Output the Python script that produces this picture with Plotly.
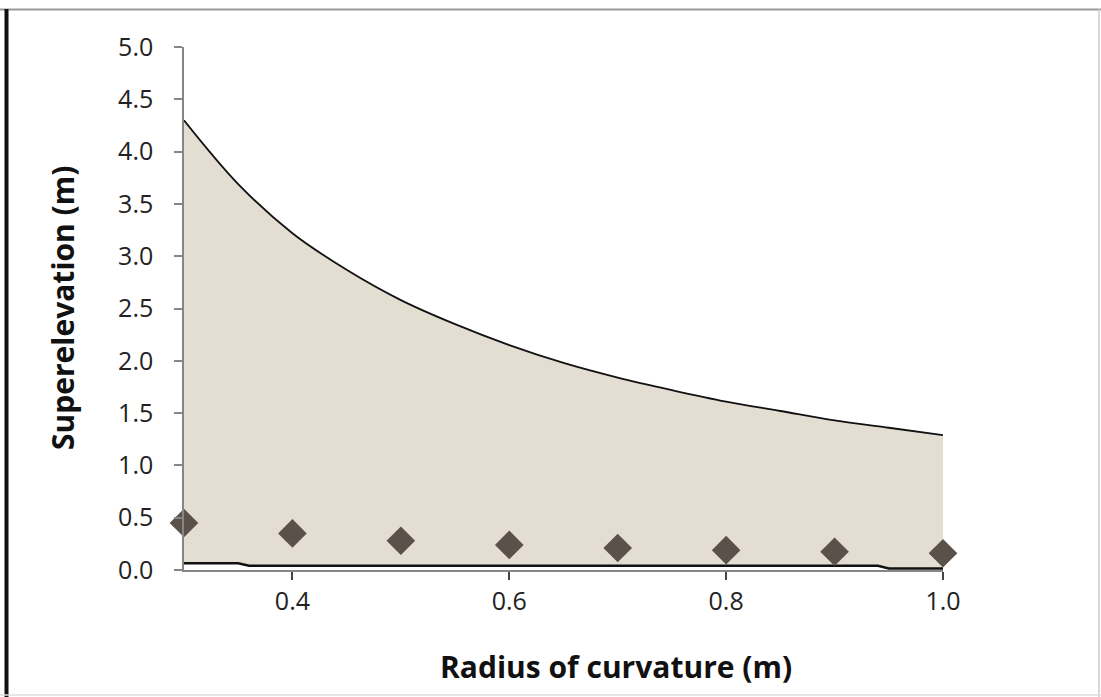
import plotly.graph_objects as go

# Upper bound of the feasible region
radius_upper = [0.30, 0.35, 0.40, 0.45, 0.50, 0.55, 0.60, 0.65, 0.70, 0.75, 0.80, 0.85, 0.90, 0.95, 1.00]
upper_bound = [4.30, 3.69, 3.22, 2.87, 2.58, 2.35, 2.15, 1.98, 1.84, 1.72, 1.61, 1.52, 1.43, 1.36, 1.29]

# Lower bound of the region
radius_lower = [0.30, 0.35, 0.36, 0.94, 0.95, 1.00]
lower_bound = [0.065, 0.065, 0.04, 0.04, 0.015, 0.015]

# Diamond markers
radius_pts = [0.3, 0.4, 0.5, 0.6, 0.7, 0.8, 0.9, 1.0]
superelev_pts = [0.45, 0.35, 0.28, 0.24, 0.21, 0.19, 0.175, 0.16]

xtick_vals = [0.4, 0.6, 0.8, 1.0]
xtick_text = ["0.4", "0.6", "0.8", "1.0"]
ytick_vals = [0.0, 0.5, 1.0, 1.5, 2.0, 2.5, 3.0, 3.5, 4.0, 4.5, 5.0]
ytick_text = ["%.1f" % v for v in ytick_vals]

x_title = "Radius of curvature (m)"
y_title = "Superelevation (m)"

fig = go.Figure()

poly_x = radius_upper + radius_lower[::-1]
poly_y = upper_bound + lower_bound[::-1]
fig.add_trace(go.Scatter(x=poly_x, y=poly_y, fill="toself", fillcolor="#e3ddd2",
                         line=dict(width=0), mode="lines", hoverinfo="skip", showlegend=False))
fig.add_trace(go.Scatter(x=radius_upper, y=upper_bound, mode="lines",
                         line=dict(color="#111111", width=1.8, shape="spline"), showlegend=False))
fig.add_trace(go.Scatter(x=radius_lower, y=lower_bound, mode="lines",
                         line=dict(color="#111111", width=2.5), showlegend=False))
fig.add_trace(go.Scatter(x=radius_pts, y=superelev_pts, mode="markers",
                         marker=dict(symbol="diamond", size=22, color="#59514a",
                                     line=dict(width=0)), showlegend=False, cliponaxis=False))

fnt = "Open Sans, Liberation Sans, sans-serif"
fig.update_layout(
    width=1101, height=697,
    margin=dict(l=184, r=158, t=47, b=127),
    paper_bgcolor="white", plot_bgcolor="white",
    font=dict(family=fnt, color="#222222"),
    xaxis=dict(range=[0.3, 1.0], tickvals=xtick_vals, ticktext=xtick_text,
               showgrid=False, zeroline=False, showline=True, linecolor="#868686", linewidth=1.5,
               ticks="outside", ticklen=8, tickcolor="#444444", tickwidth=1.5,
               ticklabelstandoff=0,
               tickfont=dict(size=25, family=fnt, color="#222222")),
    yaxis=dict(range=[0, 5], tickvals=ytick_vals, ticktext=ytick_text,
               showgrid=False, zeroline=False, showline=True, linecolor="#868686", linewidth=1.5,
               ticks="outside", ticklen=8, tickcolor="#868686", tickwidth=1.5,
               ticklabelstandoff=16,
               tickfont=dict(size=25, family=fnt, color="#222222")),
)

# page frame lines
L, R, T, B = 184, 943, 47, 570
def px(xp):
    return (xp - L) / (R - L)
def py(yp):
    return (B - yp) / (B - T)

fig.add_annotation(text="<b>%s</b>" % x_title, xref="paper", yref="paper", x=px(616), y=py(666),
                   showarrow=False, xanchor="center", yanchor="middle",
                   font=dict(size=30, family=fnt, color="#111111"))
fig.add_annotation(text="<b>%s</b>" % y_title, xref="paper", yref="paper", x=px(62), y=py(308),
                   showarrow=False, xanchor="center", yanchor="middle", textangle=-90,
                   font=dict(size=30, family=fnt, color="#111111"))

fig.add_shape(type="line", xref="paper", yref="paper", x0=px(0), x1=px(1101), y0=py(9.5), y1=py(9.5),
              line=dict(color="#999999", width=2))
fig.add_shape(type="line", xref="paper", yref="paper", x0=px(6.5), x1=px(6.5), y0=py(9), y1=py(697),
              line=dict(color="#111111", width=4))
fig.add_shape(type="line", xref="paper", yref="paper", x0=px(1099), x1=px(1099), y0=py(9), y1=py(697),
              line=dict(color="#cccccc", width=1.5))
fig.add_shape(type="line", xref="paper", yref="paper", x0=px(0), x1=px(1101), y0=py(695), y1=py(695),
              line=dict(color="#dddddd", width=1.5))

fig.write_html("out.html", config={"displayModeBar": False},
               post_script="document.body.style.margin='0px';")
